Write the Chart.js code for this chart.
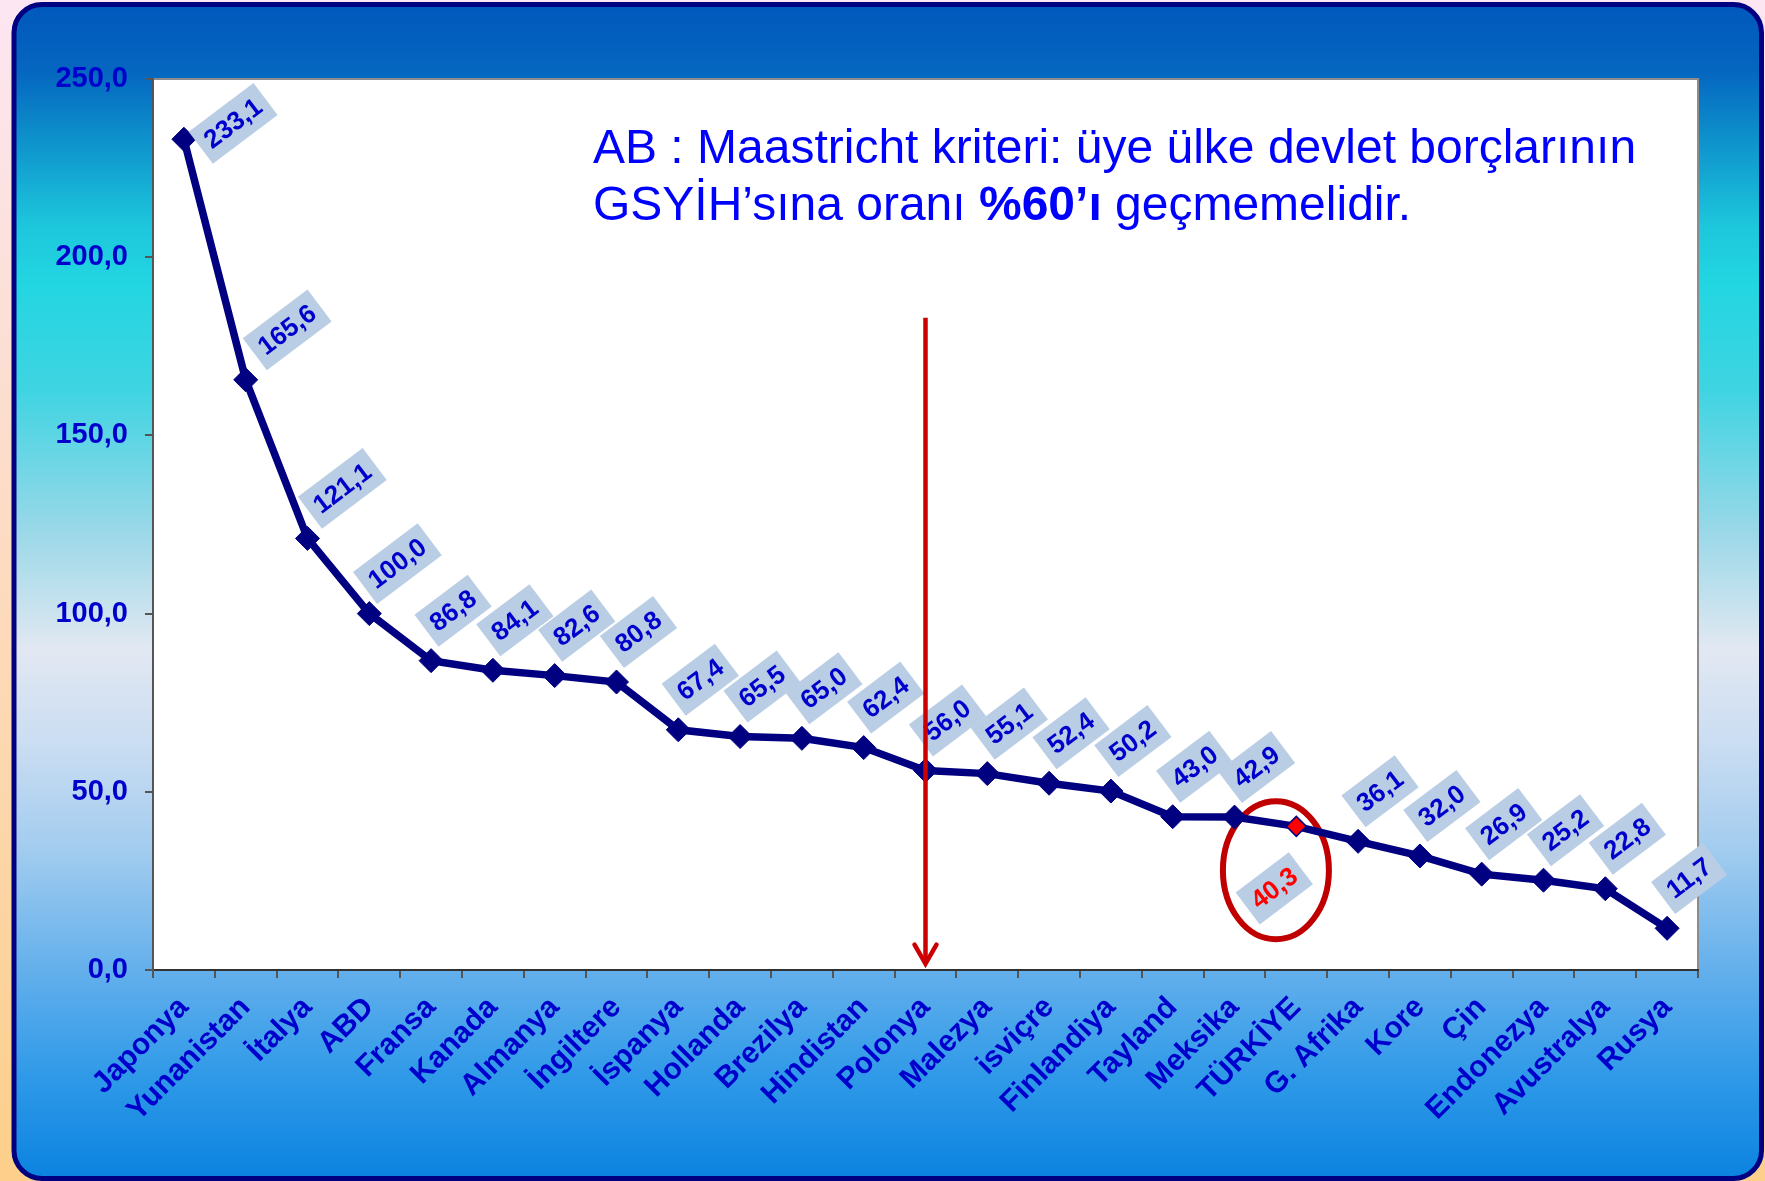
<!DOCTYPE html>
<html>
<head>
<meta charset="utf-8">
<script src="https://cdn.jsdelivr.net/npm/chart.js@4"></script>
<style>
html,body{margin:0;padding:0;background:#fff;overflow:hidden}
canvas{display:block}
</style>
</head>
<body>
<canvas id="c" width="1765" height="1181"></canvas>
<script>
// ---------------- DATA ----------------
const categories = ['Japonya','Yunanistan','İtalya','ABD','Fransa','Kanada','Almanya','İngiltere','İspanya','Hollanda','Brezilya','Hindistan','Polonya','Malezya','isviçre','Finlandiya','Tayland','Meksika','TÜRKİYE','G. Afrika','Kore','Çin','Endonezya','Avustralya','Rusya'];
const debtRatio = [233.1,165.6,121.1,100.0,86.8,84.1,82.6,80.8,67.4,65.5,65.0,62.4,56.0,55.1,52.4,50.2,43.0,42.9,40.3,36.1,32.0,26.9,25.2,22.8,11.7];
const yTicks = [0,50,100,150,200,250];
const highlightCategory = 'TÜRKİYE';
const arrowCategory = 'Polonya';
const arrowRange = [183, 1.2];
const circleCenterValue = 28;
const noteLine1 = 'AB : Maastricht kriteri: üye ülke devlet borçlarının';
const noteLine2 = ['GSYİH’sına oranı ', '%60’ı', ' geçmemelidir.'];
// --------------------------------------

const FONT = "'Liberation Sans', Arial, Helvetica, sans-serif";
const fmt = v => v.toFixed(1).replace('.', ',');
const isHi = c => c === highlightCategory;

function roundRectPath(ctx, x, y, w, h, r) {
  ctx.beginPath();
  ctx.moveTo(x + r, y);
  ctx.arcTo(x + w, y, x + w, y + h, r);
  ctx.arcTo(x + w, y + h, x, y + h, r);
  ctx.arcTo(x, y + h, x, y, r);
  ctx.arcTo(x, y, x + w, y, r);
  ctx.closePath();
}

const decorPlugin = {
  id: 'decor',
  beforeDraw(chart) {
    const {ctx, width, height, chartArea: a} = chart;
    ctx.save();
    let g = ctx.createLinearGradient(0, 0, 0, height);
    g.addColorStop(0, '#FCE6F2');
    g.addColorStop(1, '#FDCF8A');
    ctx.fillStyle = g;
    ctx.fillRect(0, 0, width, height);

    roundRectPath(ctx, 14, 4.5, width - 14 - 3.5, height - 4.5 - 2.5, 28);
    g = ctx.createLinearGradient(0, 0, 0, height);
    g.addColorStop(0.00, '#0057BC');
    g.addColorStop(0.06, '#0566C0');
    g.addColorStop(0.12, '#0E93CC');
    g.addColorStop(0.19, '#1DC6DC');
    g.addColorStop(0.24, '#22D6E1');
    g.addColorStop(0.33, '#3FD4E2');
    g.addColorStop(0.45, '#9AD8E8');
    g.addColorStop(0.55, '#E2E8F2');
    g.addColorStop(0.63, '#CADDF2');
    g.addColorStop(0.72, '#A2CCEF');
    g.addColorStop(0.82, '#64B0EC');
    g.addColorStop(0.91, '#309AE8');
    g.addColorStop(1.00, '#0A82E0');
    ctx.fillStyle = g;
    ctx.fill();
    ctx.lineWidth = 5;
    ctx.strokeStyle = '#000080';
    ctx.stroke();

    ctx.fillStyle = '#FFFFFF';
    ctx.fillRect(a.left, a.top, a.width, a.height);
    ctx.lineWidth = 2;
    ctx.strokeStyle = '#8C8C8C';
    ctx.strokeRect(a.left, a.top, a.width, a.height);
    ctx.restore();
  },
  beforeDatasetsDraw(chart) {
    const {ctx, chartArea: a, scales: {x, y}} = chart;
    const catW = a.width / categories.length;
    const cx = x.getPixelForValue(categories.indexOf(highlightCategory)) - 0.33 * catW;
    const cy = y.getPixelForValue(circleCenterValue);
    ctx.save();
    ctx.beginPath();
    ctx.ellipse(cx, cy, 53, 69, 0, 0, Math.PI * 2);
    ctx.lineWidth = 6;
    ctx.strokeStyle = '#C00000';
    ctx.stroke();
    ctx.restore();
  },
  afterDatasetsDraw(chart) {
    const {ctx, chartArea: a} = chart;
    const meta = chart.getDatasetMeta(0);
    const ang = -37 * Math.PI / 180;
    const h = 40, padX = 8;
    ctx.save();
    ctx.font = `bold 26px ${FONT}`;
    ctx.textAlign = 'center';
    ctx.textBaseline = 'middle';
    meta.data.forEach((pt, i) => {
      const txt = fmt(debtRatio[i]);
      const w = ctx.measureText(txt).width + 2 * padX;
      const below = isHi(categories[i]);
      let cx, cy;
      if (below) {
        cx = pt.x - 22; cy = pt.y + 62;
      } else {
        const prev = i > 0 ? meta.data[i - 1] : null;
        const slope = prev ? (pt.y - prev.y) / (pt.x - prev.x) : 0;
        cx = pt.x + 22 + (slope > 1 ? slope * 5 : 0);
        cy = pt.y - 50;
        const halfY = 0.3 * w + 0.4 * h;
        const minY = a.top + halfY + 4;
        if (cy < minY) { const d = minY - cy; cy = minY; cx += d * 0.8; }
      }
      ctx.save();
      ctx.translate(cx, cy);
      ctx.rotate(ang);
      ctx.fillStyle = '#B9CDE5';
      ctx.fillRect(-w / 2, -h / 2, w, h);
      ctx.fillStyle = below ? '#FF0000' : '#0000CC';
      ctx.fillText(txt, 0, 1);
      ctx.restore();
    });
    ctx.restore();
  },
  afterDraw(chart) {
    const {ctx, chartArea: a, scales: {x, y}} = chart;
    ctx.save();
    // red arrow
    const ax = x.getPixelForValue(categories.indexOf(arrowCategory));
    const yTop = y.getPixelForValue(arrowRange[0]);
    const yTip = y.getPixelForValue(arrowRange[1]);
    ctx.strokeStyle = '#CC0000';
    ctx.lineWidth = 4.5;
    ctx.beginPath();
    ctx.moveTo(ax, yTop);
    ctx.lineTo(ax, yTip - 3);
    ctx.stroke();
    ctx.lineJoin = 'miter';
    ctx.lineCap = 'round';
    ctx.beginPath();
    ctx.moveTo(ax - 11, yTip - 21);
    ctx.lineTo(ax, yTip - 2);
    ctx.lineTo(ax + 11, yTip - 21);
    ctx.stroke();

    // note text
    const tx = a.left + 440;
    ctx.fillStyle = '#0000FF';
    ctx.textBaseline = 'alphabetic';
    ctx.textAlign = 'left';
    ctx.font = `48px ${FONT}`;
    ctx.fillText(noteLine1, tx, a.top + 84);
    let cx = tx;
    noteLine2.forEach((part, i) => {
      ctx.font = (i === 1 ? 'bold ' : '') + `48px ${FONT}`;
      ctx.fillText(part, cx, a.top + 141);
      cx += ctx.measureText(part).width;
    });
    ctx.restore();
  }
};

new Chart(document.getElementById('c'), {
  type: 'line',
  data: {
    labels: categories,
    datasets: [{
      data: debtRatio,
      borderColor: '#000080',
      borderWidth: 7.5,
      tension: 0,
      fill: false,
      pointStyle: 'rectRot',
      pointRadius: categories.map(c => isHi(c) ? 10 : 12),
      pointBackgroundColor: categories.map(c => isHi(c) ? '#FF0000' : '#000080'),
      pointBorderColor: '#000080',
      pointBorderWidth: categories.map(c => isHi(c) ? 1.5 : 1),
      clip: false
    }]
  },
  options: {
    responsive: false,
    animation: false,
    devicePixelRatio: 1,
    layout: {padding: {top: 79, right: 67, left: 0, bottom: 0}},
    plugins: {legend: {display: false}, tooltip: {enabled: false}},
    scales: {
      x: {
        offset: true,
        grid: {offset: true, drawOnChartArea: false, drawTicks: true, tickLength: 8, color: '#555', lineWidth: 2},
        border: {color: '#333', width: 2},
        ticks: {
          color: '#0000CC',
          font: {family: FONT, size: 30, weight: 'bold'},
          minRotation: 45, maxRotation: 45,
          autoSkip: false,
          padding: 12
        },
        afterFit(s) { s.height = 211; }
      },
      y: {
        min: 0, max: 250,
        afterBuildTicks(s) { s.ticks = yTicks.map(v => ({value: v})); },
        grid: {drawOnChartArea: false, tickLength: 8, color: '#555', lineWidth: 2},
        border: {color: '#555', width: 2},
        ticks: {
          color: '#0000CC',
          font: {family: FONT, size: 29, weight: 'bold'},
          padding: 17,
          callback: v => fmt(v)
        },
        afterFit(s) { s.width = 153; }
      }
    }
  },
  plugins: [decorPlugin]
});
</script>
</body>
</html>
